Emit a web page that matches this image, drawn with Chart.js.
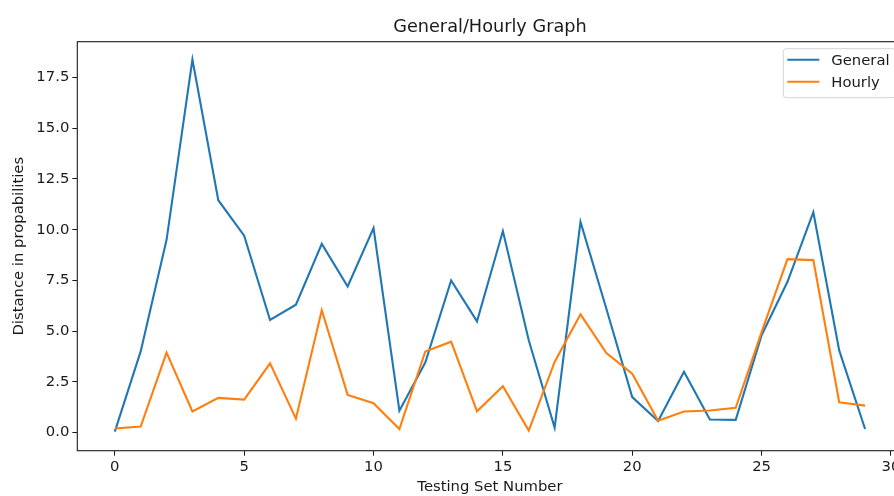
<!DOCTYPE html>
<html>
<head>
<meta charset="utf-8">
<title>General/Hourly Graph</title>
<script src="https://cdn.jsdelivr.net/npm/chart.js@4.4.0/dist/chart.umd.min.js"></script>
<style>
  html, body { margin: 0; padding: 0; background: #fff; overflow: hidden; }
  #wrap { width: 894px; height: 496px; overflow: hidden; }
  canvas { display: block; }
</style>
</head>
<body>
<div id="wrap"><canvas id="graph" width="910" height="496"></canvas></div>
<script>
const testSets   = [0, 1, 2, 3, 4, 5, 6, 7, 8, 9, 10, 11, 12, 13, 14, 15, 16, 17, 18, 19, 20, 21, 22, 23, 24, 25, 26, 27, 28, 29];
const generalDist = [0.05, 4.0, 9.5, 18.38, 11.45, 9.7, 5.55, 6.3, 9.3, 7.2, 10.08, 1.08, 3.45, 7.5, 5.48, 9.93, 4.55, 0.25, 10.38, 6.1, 1.75, 0.57, 3.0, 0.65, 0.63, 4.8, 7.43, 10.86, 4.05, 0.18];
const hourlyDist  = [0.2, 0.3, 3.94, 1.04, 1.71, 1.63, 3.41, 0.69, 6.03, 1.86, 1.45, 0.18, 4.0, 4.48, 1.05, 2.29, 0.1, 3.48, 5.83, 3.92, 2.9, 0.59, 1.04, 1.09, 1.22, 4.95, 8.55, 8.5, 1.5, 1.33];
const xTicks = [0, 5, 10, 15, 20, 25, 30];
const yTicks = [0, 2.5, 5, 7.5, 10, 12.5, 15, 17.5];

const titleText = 'General/Hourly Graph';
const FONT = '"DejaVu Sans", "Liberation Sans", sans-serif';
const INK  = '#1a1a1a';

// — axes frame (matplotlib style box) —
const framePlugin = {
  id: 'frame',
  afterDatasetsDraw(chart) {
    const { ctx, chartArea: a } = chart;
    ctx.save();
    ctx.strokeStyle = INK;
    ctx.lineWidth = 1.1;
    ctx.strokeRect(a.left, a.top, a.right - a.left, a.bottom - a.top);
    ctx.restore();
  }
};

// — title centred over the axes, not the canvas —
const axesTitle = {
  id: 'axesTitle',
  afterDraw(chart) {
    const { ctx, chartArea: a } = chart;
    ctx.save();
    ctx.font = `17.7px ${FONT}`;
    ctx.fillStyle = INK;
    ctx.textAlign = 'center';
    ctx.textBaseline = 'middle';
    ctx.fillText(titleText, (a.left + a.right) / 2, 27);
    ctx.restore();
  }
};

// — legend box inside the upper right corner —
const innerLegend = {
  id: 'innerLegend',
  afterDraw(chart) {
    const { ctx, chartArea: a } = chart;
    const sets = chart.data.datasets;
    ctx.save();
    ctx.font = `14.8px ${FONT}`;
    const textW = Math.max(...sets.map(d => ctx.measureText(d.label).width));
    const boxW = 4 + 32 + 12 + textW + 6;
    const boxH = 11 + 22 * (sets.length - 1) + 16;
    const x0 = a.right - 7 - boxW;
    const y0 = a.top + 7;

    ctx.beginPath();
    ctx.roundRect(x0, y0, boxW, boxH, 3);
    ctx.fillStyle = 'rgba(255,255,255,0.8)';
    ctx.fill();
    ctx.strokeStyle = '#d4d4d4';
    ctx.lineWidth = 1;
    ctx.stroke();

    sets.forEach((d, i) => {
      const y = y0 + 11 + i * 22;
      ctx.beginPath();
      ctx.moveTo(x0 + 4, y);
      ctx.lineTo(x0 + 36, y);
      ctx.strokeStyle = d.borderColor;
      ctx.lineWidth = 2.1;
      ctx.stroke();
      ctx.fillStyle = INK;
      ctx.textAlign = 'left';
      ctx.textBaseline = 'middle';
      ctx.fillText(d.label, x0 + 48, y + 1);
    });
    ctx.restore();
  }
};

const ctx = document.getElementById('graph').getContext('2d');
new Chart(ctx, {
  type: 'line',
  data: {
    datasets: [
      {
        label: 'General',
        data: testSets.map((x, i) => ({ x, y: generalDist[i] })),
        borderColor: '#1f77b4', borderWidth: 2.1,
        pointRadius: 0, tension: 0, fill: false, order: 1
      },
      {
        label: 'Hourly',
        data: testSets.map((x, i) => ({ x, y: hourlyDist[i] })),
        borderColor: '#ff7f0e', borderWidth: 2.1,
        pointRadius: 0, tension: 0, fill: false, order: 0
      }
    ]
  },
  options: {
    responsive: false,
    animation: false,
    layout: { padding: { top: 41.7, right: 7.4, left: 0, bottom: 0 } },
    plugins: {
      legend: { display: false },
      title: { display: false },
      tooltip: { enabled: false }
    },
    scales: {
      x: {
        type: 'linear',
        min: -1.45, max: 30.45,
        afterBuildTicks: s => { s.ticks = xTicks.map(v => ({ value: v })); },
        afterFit: s => { s.height = 45.3; },
        ticks: {
          autoSkip: false, maxRotation: 0, padding: 3,
          color: INK, font: { family: FONT, size: 14.8 },
          callback: v => String(v)
        },
        grid: { drawOnChartArea: false, drawTicks: true, tickLength: 5, color: INK, lineWidth: 1 },
        border: { display: false },
        title: {
          display: true, text: 'Testing Set Number', color: INK,
          font: { family: FONT, size: 14.8 }, padding: { top: 0, bottom: 0 }
        }
      },
      y: {
        type: 'linear',
        min: -0.89, max: 19.26,
        afterBuildTicks: s => { s.ticks = yTicks.map(v => ({ value: v })); },
        afterFit: s => { s.width = 77.3; },
        ticks: {
          autoSkip: false, padding: 3,
          color: INK, font: { family: FONT, size: 14.8 },
          callback: v => Number(v).toFixed(1)
        },
        grid: { drawOnChartArea: false, drawTicks: true, tickLength: 5, color: INK, lineWidth: 1 },
        border: { display: false },
        title: {
          display: true, text: 'Distance in propabilities', color: INK,
          font: { family: FONT, size: 14.8 }, padding: { top: 10, bottom: 0 }
        }
      }
    }
  },
  plugins: [framePlugin, axesTitle, innerLegend]
});
</script>
</body>
</html>
